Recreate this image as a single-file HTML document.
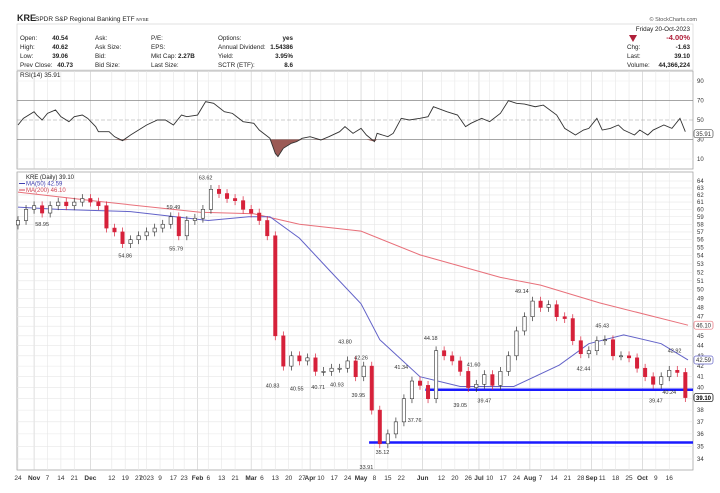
<!DOCTYPE html>
<html><head><meta charset="utf-8"><style>
body{margin:0;background:#fff;width:720px;height:488px;overflow:hidden;font-family:"Liberation Sans",sans-serif}
svg text{font-family:"Liberation Sans",sans-serif}
</style></head><body>
<svg id="c" width="720" height="488" viewBox="0 0 720 488">
<g font-size="6.3" fill="#222">
<text x="17" y="21" font-size="9" font-weight="bold">KRE</text>
<text x="35" y="21" font-size="6.5">SPDR S&amp;P Regional Banking ETF <tspan font-size="4.5">NYSE</tspan></text>
<text x="697" y="21" font-size="5.5" text-anchor="end" fill="#555">© StockCharts.com</text>
<rect x="17" y="24" width="676" height="46" fill="none" stroke="#ccc" stroke-width="0.6"/>
<text x="20" y="40">Open:</text><text x="68" y="40" text-anchor="end" font-weight="bold">40.54</text>
<text x="20" y="49">High:</text><text x="68" y="49" text-anchor="end" font-weight="bold">40.62</text>
<text x="20" y="58">Low:</text><text x="68" y="58" text-anchor="end" font-weight="bold">39.06</text>
<text x="20" y="67">Prev Close:</text><text x="73" y="67" text-anchor="end" font-weight="bold">40.73</text>
<text x="95" y="40">Ask:</text><text x="95" y="49">Ask Size:</text><text x="95" y="58">Bid:</text><text x="95" y="67">Bid Size:</text>
<text x="151" y="40">P/E:</text><text x="151" y="49">EPS:</text><text x="151" y="58">Mkt Cap: <tspan font-weight="bold">2.27B</tspan></text><text x="151" y="67">Last Size:</text>
<text x="218" y="40">Options:</text><text x="293" y="40" text-anchor="end" font-weight="bold">yes</text>
<text x="218" y="49">Annual Dividend:</text><text x="293" y="49" text-anchor="end" font-weight="bold">1.54386</text>
<text x="218" y="58">Yield:</text><text x="293" y="58" text-anchor="end" font-weight="bold">3.95%</text>
<text x="218" y="67">SCTR (ETF):</text><text x="293" y="67" text-anchor="end" font-weight="bold">8.6</text>
<text x="690" y="31" text-anchor="end">Friday  20-Oct-2023</text>
<polygon points="629,35 637,35 633,42" fill="#b0203a"/>
<text x="690" y="40" text-anchor="end" fill="#b0203a" font-weight="bold" font-size="7.5">-4.00%</text>
<text x="627" y="49">Chg:</text><text x="690" y="49" text-anchor="end" font-weight="bold">-1.63</text>
<text x="627" y="58">Last:</text><text x="690" y="58" text-anchor="end" font-weight="bold">39.10</text>
<text x="627" y="67">Volume:</text><text x="690" y="67" text-anchor="end" font-weight="bold">44,366,224</text>
</g>
<g id="grid"></g>
<g id="rsi"></g>
<g id="main"></g>
</svg>
<script>
// ---- data ----
const dateLabels=["24","Nov","7","14","21","Dec","12","19","27","2023","9","17","23","Feb","6","13","21","Mar","6","13","20","27","Apr","10","17","24","May","8","15","22","Jun","12","20","26","Jul","10","17","24","Aug","7","14","21","28","Sep","11","18","25","Oct","9","16"];
const dateDays=[0,6,11,16,21,27,35,40,45,48,53,58,62,67,71,76,81,87,91,96,101,106,109,113,118,123,128,133,138,143,151,158,163,168,172,176,181,186,191,195,200,205,210,214,218,223,228,233,238,243];
const closes=[58.5,60,60.5,59.5,60.5,61,60.5,61,61.5,61,60.5,57.5,57,55.5,56,56.5,57,57.5,58,59,56.5,58.5,58.8,60,62.8,62.2,61.5,61.2,60,59.5,58.5,56.5,45,42,43,42.5,42.8,41.5,41.5,41.8,41.8,42.5,41,42,38,35.2,36,37,39,40.6,40.2,39,43.5,43,42.5,41.5,40,40.3,41.2,40.2,41.5,43,45.5,47,48.7,48,48.3,47,46.8,44.5,43.2,43.5,44.5,44.6,43,43,42.8,41.8,41,40.3,41,41.6,41.4,39.1];
const candleStep=3;
const ma50Days=[0,15,42,71,86,94,105,116,128,135,150,165,185,202,213,226,240,250];
const ma50Vals=[60.3,60,59.7,58.5,59,59,56.2,52.3,48.4,44.6,41,40.1,40.1,42.1,44.2,45.1,44.2,42.6];
const ma200Days=[0,30,68,88,105,128,150,180,195,217,250];
const ma200Vals=[62.4,61.1,59.6,59.4,58,57.1,54.1,51.4,50.5,48.5,46.1];
const rsiDays=[0,2,6,7,9,11,14,16,19,21,24,26,29,30,34,36,39,42,45,48,52,55,58,61,63,67,70,73,77,80,84,88,90,94,96,97,99,102,104,106,109,113,116,120,122,125,128,130,133,134,138,140,143,146,150,153,155,160,164,167,169,173,176,180,183,186,189,193,196,201,204,208,211,213,216,218,221,224,226,230,232,235,237,241,244,247,249];
const rsiVals=[44.9,51.7,58.5,55.1,50,56.8,60.3,53.4,48.3,53.4,55.1,51.7,43.2,38,38,32.9,28.8,34.6,39.7,44.9,50,50,44.9,55.1,53.4,55.1,68.8,67.1,58.5,56.8,48.3,46.6,39.7,31.2,15.8,12.4,21,26.1,27.8,31.2,32.9,29.5,32.9,38,43.2,36.3,41.4,34.6,27.8,36.3,32.9,36.3,51.7,50,51.7,53.4,63.6,58.5,55.1,43.2,46.6,51.7,48.3,56.8,69.8,67.1,66.4,63.6,65.3,55.1,41.4,34.6,39.7,41.4,51.7,39.7,41.4,44.9,39.7,34.6,39.7,34.6,39.7,44.9,41.4,51.7,38];
const priceTicks=[34,35,36,37,38,39,40,41,42,43,44,45,46,47,48,49,50,51,52,53,54,55,56,57,58,59,60,61,62,63,64];
const swingLabels=["58.95","54.86","59.49","55.79","63.62","40.83","40.55","40.71","40.93","43.80","39.95","42.26","33.91","35.12","41.34","37.76","44.18","39.05","41.60","39.47","49.14","42.44","45.43","39.47","40.24","42.92"];
const swingDays=[9,40,58,59,70,95,104,112,119,122,127,128,130,136,143,148,154,165,170,174,188,211,218,238,243,245];
const swingVals=[58.95,54.86,59.49,55.79,63.62,40.83,40.55,40.71,40.93,43.80,39.95,42.26,33.91,35.12,41.34,37.76,44.18,39.05,41.60,39.47,49.14,42.44,45.43,39.47,40.24,42.92];
const supportVals=[39.8,35.3];
const supportStart=[152,131];
// ---- axes ----
const X0=18,DX=2.68,L=17,R=693,MT=172,MB=470;
const x=d=>X0+d*DX;
const yP=v=>181+(Math.log(64)-Math.log(v))/0.6325*278;
const yR=v=>120-(v-50)*0.975;
const NS="http://www.w3.org/2000/svg";
function mk(t,a,p){const e=document.createElementNS(NS,t);for(const k in a)e.setAttribute(k,a[k]);p.appendChild(e);return e;}
const G=document.getElementById('grid'),RS=document.getElementById('rsi'),M=document.getElementById('main');
let f1=mk('rect',{x:L,y:71,width:R-L,height:98,fill:'none',stroke:'#999','stroke-width':0.7},G);


let f2=mk('rect',{x:L,y:MT,width:R-L,height:MB-MT,fill:'none',stroke:'#999','stroke-width':0.7},G);


dateLabels.forEach((lb,i)=>{
  const xx=x(dateDays[i]);const month=isNaN(+lb);
  mk('line',{x1:xx,x2:xx,y1:71,y2:169,stroke:month?'#c8c8c8':'#e6e6e6','stroke-width':0.6},G);
  mk('line',{x1:xx,x2:xx,y1:MT,y2:MB,stroke:month?'#c8c8c8':'#e6e6e6','stroke-width':0.6},G);
  const t=mk('text',{x:xx,y:480,'font-size':6.5,'text-anchor':'middle',fill:'#333','font-weight':month?'bold':'normal'},G);
  t.textContent=lb;
  
  
});
priceTicks.forEach(v=>{
  const yy=yP(v);
  mk('line',{x1:L,x2:R,y1:yy,y2:yy,stroke:'#e6e6e6','stroke-width':0.6},G);
  const t=mk('text',{x:R+4,y:yy+2,'font-size':6,fill:'#333'},G);t.textContent=v;
  
  
});
[90,70,50,30,10].forEach(v=>{
  const yy=yR(v);
  if(v==70||v==30)mk('line',{x1:L,x2:R,y1:yy,y2:yy,stroke:'#888','stroke-width':0.8},RS);
  else if(v==50)mk('line',{x1:L,x2:R,y1:yy,y2:yy,stroke:'#999','stroke-width':0.6,'stroke-dasharray':'4,2'},RS);
  else mk('line',{x1:L,x2:R,y1:yy,y2:yy,stroke:'#eee','stroke-width':0.6},RS);
  const t=mk('text',{x:R+4,y:yy+2,'font-size':6,fill:'#333'},RS);t.textContent=v;
  
  
});
let pts=rsiDays.map((d,i)=>[x(d),yR(rsiVals[i])]);
let fillPts=pts.map(p=>[p[0],Math.max(p[1],yR(30))]);
let fp=mk('polygon',{points:`${fillPts[0][0]},${yR(30)} `+fillPts.map(p=>p.join(',')).join(' ')+` ${fillPts[fillPts.length-1][0]},${yR(30)}`,fill:'#9b5a55'},RS);


let rl=mk('polyline',{points:pts.map(p=>p.join(',')).join(' '),fill:'none',stroke:'#333','stroke-width':0.9},RS);


let rt=mk('text',{x:20,y:77,'font-size':6.5,fill:'#222'},RS);rt.textContent='RSI(14) 35.91';


let rtag=mk('rect',{x:R+1,y:yR(35.91)-4,width:19,height:8,fill:'#fff',stroke:'#333','stroke-width':0.6,rx:2},RS);
let rtt=mk('text',{x:R+3,y:yR(35.91)+2.2,'font-size':6,fill:'#333'},RS);rtt.textContent='35.91';


function line(ds,vs,col,name){const l=mk('polyline',{points:ds.map((d,i)=>x(d)+','+yP(vs[i])).join(' '),fill:'none',stroke:col,'stroke-width':1},M);

}
line(ma200Days,ma200Vals,'#e8707a','ma200-line');
line(ma50Days,ma50Vals,'#6262c8','ma50-line');
supportVals.forEach((v,i)=>{const l=mk('line',{x1:x(supportStart[i]),x2:R,y1:yP(v),y2:yP(v),stroke:'#1a1aff','stroke-width':2.5},M);

});
closes.forEach((c,i)=>{
  const o=i?closes[i-1]:c*0.99;const d=i*candleStep;const xx=x(d);
  const up=c>=o;const hi=Math.max(o,c)*1.01,lo=Math.min(o,c)*0.99;
  const col=up?'#333':'#d6213a';
  mk('line',{x1:xx,x2:xx,y1:yP(hi),y2:yP(lo),stroke:col,'stroke-width':0.7},M);
  const top=yP(Math.max(o,c)),h=Math.max(1,yP(Math.min(o,c))-top);
  const r=mk('rect',{x:xx-1.7,y:top,width:3.4,height:h,fill:up?'#fff':'#d6213a',stroke:col,'stroke-width':0.6},M);
  
  
});
swingLabels.forEach((lb,i)=>{
  const v=swingVals[i];const isHigh=[2,4,9,11,14,16,18,20,22,25].includes(i);
  const yy=isHigh?yP(v)-4:yP(v)+9;
  const t=mk('text',{x:x(swingDays[i]),y:yy,'font-size':5.5,'text-anchor':'middle',fill:'#333'},M);t.textContent=lb;
  
  
});
[[46.10,'#e8707a'],[42.59,'#6262c8'],[39.10,'#000']].forEach(([v,c])=>{
  const yy=yP(v);
  mk('rect',{x:R+1,y:yy-4,width:19,height:8,fill:'#fff',stroke:c,'stroke-width':0.7,rx:2},M);
  const t=mk('text',{x:R+3,y:yy+2.2,'font-size':6,fill:c=='#000'?'#000':'#333','font-weight':c=='#000'?'bold':'normal'},M);t.textContent=v.toFixed(2);
  
  
});
const lg=[['KRE (Daily) 39.10','#222'],['MA(50) 42.59','#4040b0'],['MA(200) 46.10','#d04050']];
lg.forEach((e,i)=>{
  const yy=179+i*6.5;
  if(i)mk('line',{x1:19,x2:25,y1:yy-2,y2:yy-2,stroke:e[1],'stroke-width':1},M);
  const t=mk('text',{x:26,y:yy,'font-size':6,fill:e[1]},M);t.textContent=e[0];
  
  
});
</script>
</body></html>
